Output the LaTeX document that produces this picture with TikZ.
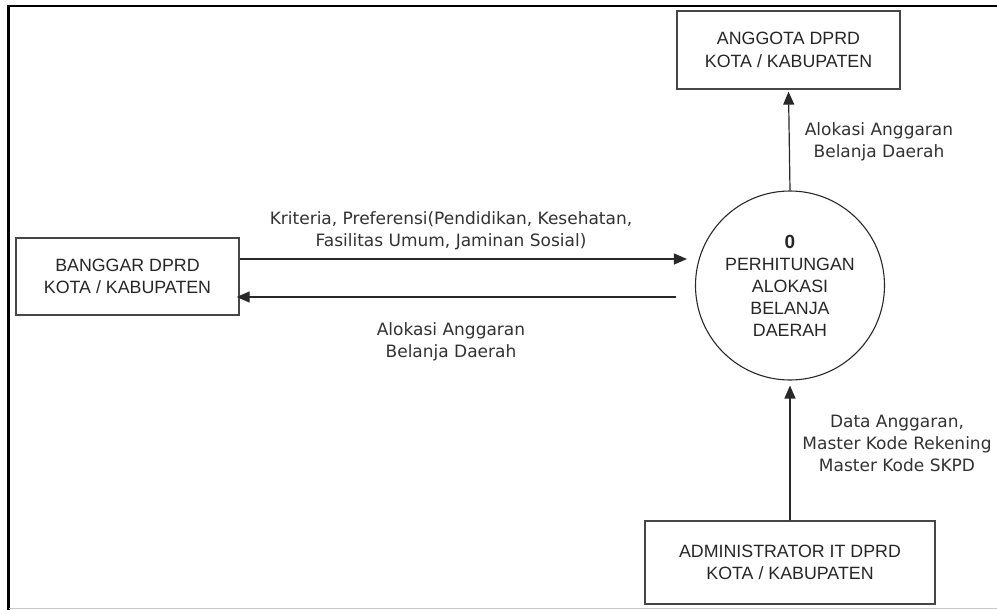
\documentclass[tikz,border=0pt]{standalone}
\usepackage{fontspec}
\setmainfont{Liberation Sans}
\newfontfamily\lblfont{DejaVu Sans}
\usepackage{xcolor}
\usetikzlibrary{arrows.meta, positioning, calc}
\definecolor{cLine}{RGB}{40,40,40}
\definecolor{cBox}{RGB}{70,70,70}
\definecolor{cLabel}{RGB}{50,50,50}
\definecolor{cEdge}{RGB}{200,200,200}
\tikzset{
	entity/.style  ={rectangle, draw=cBox, line width=1.3pt, align=center, text=black!85, font=\fontsize{17.8}{22.5}\selectfont},
	proses/.style  ={circle, draw=cLine, line width=1.1pt, minimum size=189pt, inner sep=0pt, align=center, text=black!85, font=\fontsize{17.8}{22}\selectfont},
	dfarrow/.style ={-{Triangle[length=13pt, width=11pt]}, line width=1.2pt, draw=cLine},
	flowlbl/.style ={align=center, text=cLabel, font=\lblfont\fontsize{17}{22}\selectfont},
}
\begin{document}
\begin{tikzpicture}[x=1pt, y=-1pt]
	\useasboundingbox (0,0) rectangle (997,610);
	% outer frame
	\draw[line width=2.4pt] (997,6) -- (8.5,6) -- (8.5,610);
	\draw[cEdge, line width=1.5pt] (8.5,608.5) -- (997,608.5);
	% entities and process
	\node[entity, minimum width=223pt, minimum height=78pt] (anggota) at (788.5,50) {ANGGOTA DPRD\\KOTA / KABUPATEN};
	\node[entity, minimum width=223pt, minimum height=77pt] (banggar) at (127.5,276.5) {BANGGAR DPRD\\KOTA / KABUPATEN};
	\node[entity, minimum width=290pt, minimum height=83pt] (admin) at (790,562.5) {ADMINISTRATOR IT DPRD\\KOTA / KABUPATEN};
	\node[proses] (proc) at (790,285.5) {{\bfseries\fontsize{19}{25}\selectfont 0}\\PERHITUNGAN\\ALOKASI\\BELANJA\\DAERAH};
	% data flows
	\draw[dfarrow, shorten >=8pt] ([yshift=17.5pt]banggar.east) -- ([yshift=17.5pt]banggar.east -| proc.west);
	\draw[dfarrow, shorten <=18.5pt, shorten >=-3pt] ([yshift=-20.5pt]banggar.east -| proc.west) -- ([yshift=-20.5pt]banggar.east);
	\draw[dfarrow, shorten >=2pt] (proc.north) -- (anggota.south);
	\draw[dfarrow, shorten >=5pt] (admin.north) -- (proc.south);
	% flow labels
	\node[flowlbl] (lkrit) at (451,231) {Kriteria, Preferensi(Pendidikan, Kesehatan,\\Fasilitas Umum, Jaminan Sosial)};
	\node[flowlbl] (lbalik) at (451,341.5) {Alokasi Anggaran\\Belanja Daerah};
	\node[flowlbl] (lang) at (879,142) {Alokasi Anggaran\\Belanja Daerah};
	\node[flowlbl] (ladmin) at (897,443.5) {Data Anggaran,\\Master Kode Rekening\\Master Kode SKPD};
\end{tikzpicture}
\end{document}
